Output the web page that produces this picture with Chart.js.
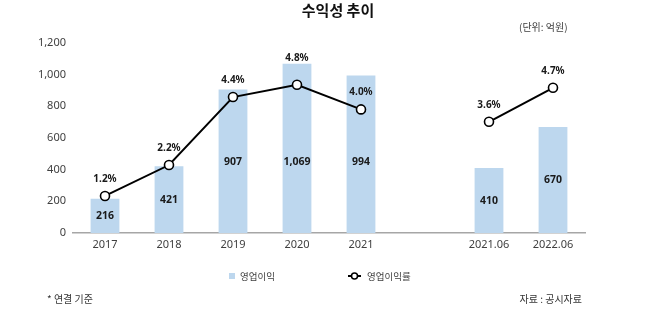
<!DOCTYPE html>
<html><head><meta charset="utf-8">
<script src="https://cdn.jsdelivr.net/npm/chart.js@4.4.1/dist/chart.umd.min.js"></script>
<style>html,body{margin:0;padding:0;background:#fff}#wrap{width:650px;height:336px;position:relative}</style>
</head><body><div id="wrap"><canvas id="c" width="650" height="336"></canvas></div>
<script>
// ---- data ----
const categories = ['2017','2018','2019','2020','2021','','2021.06','2022.06'];
const operatingProfit = [216, 421, 907, 1069, 994, null, 410, 670];
const operatingMargin = [1.2, 2.2, 4.4, 4.8, 4.0, null, 3.6, 4.7];
const profitLabels = ['216','421','907','1,069','994', null, '410','670'];
const marginLabels = ['1.2%','2.2%','4.4%','4.8%','4.0%', null, '3.6%','4.7%'];
const yTickLabels = ['0','200','400','600','800','1,000','1,200'];
const titleText = '수익성 추이';
const unitText = '(단위: 억원)';
const seriesNames = ['영업이익', '영업이익률'];
const noteText = '* 연결 기준';
const sourceText = '자료 : 공시자료';

// ---- style ----
const FONT = "'Noto Sans','Noto Sans CJK KR',sans-serif";
const KFONT = "'Noto Sans CJK KR','Noto Sans',sans-serif";
const BAR_COLOR = '#BDD7EE';
const LABEL_CAP = 450;

Chart.defaults.font.family = FONT;

const textPlugin = {
  id: 'texts',
  afterDatasetsDraw(chart) {
    const ctx = chart.ctx;
    const lineMeta = chart.getDatasetMeta(0);
    const barMeta = chart.getDatasetMeta(1);
    const y = chart.scales.y;
    ctx.save();
    ctx.textAlign = 'center';
    ctx.textBaseline = 'middle';
    // bar values
    ctx.font = "bold 10.5px " + FONT;
    ctx.fillStyle = '#1a1a1a';
    const capY = y.getPixelForValue(LABEL_CAP);
    barMeta.data.forEach((b, i) => {
      if (profitLabels[i] == null) return;
      const mid = (b.y + b.base) / 2;
      ctx.fillText(profitLabels[i], b.x, Math.max(mid, capY));
    });
    // margin labels
    ctx.font = "bold 10px " + FONT;
    lineMeta.data.forEach((p, i) => {
      if (marginLabels[i] == null) return;
      let ly = p.y - 17;
      const bar = barMeta.data[i];
      if (bar && ly + 6 > bar.y && ly - 6 < bar.y) ly = bar.y - 6;
      ctx.fillText(marginLabels[i], p.x, ly);
    });
    ctx.restore();
  },
  afterDraw(chart) {
    const ctx = chart.ctx;
    ctx.save();
    ctx.textBaseline = 'middle';
    // title
    ctx.textAlign = 'center';
    ctx.fillStyle = '#111';
    ctx.font = "bold 15px " + KFONT;
    ctx.fillText(titleText, 338, 10);
    // unit
    ctx.textAlign = 'left';
    ctx.fillStyle = '#404040';
    ctx.font = "10px " + KFONT;
    ctx.fillText(unitText, 519, 27);
    // legend
    const ly = 276;
    ctx.fillStyle = BAR_COLOR;
    ctx.fillRect(229, ly - 3, 6, 6);
    ctx.fillStyle = '#404040';
    ctx.font = "9.5px " + KFONT;
    ctx.fillText(seriesNames[0], 240, ly);
    ctx.strokeStyle = '#000';
    ctx.lineWidth = 2;
    ctx.beginPath(); ctx.moveTo(348, ly); ctx.lineTo(361, ly); ctx.stroke();
    ctx.beginPath(); ctx.arc(354.5, ly, 3, 0, Math.PI * 2);
    ctx.fillStyle = '#fff'; ctx.fill();
    ctx.lineWidth = 1.5; ctx.stroke();
    ctx.fillStyle = '#404040';
    ctx.fillText(seriesNames[1], 367, ly);
    // footnotes
    ctx.fillStyle = '#333';
    ctx.font = "10px " + KFONT;
    ctx.textAlign = 'left';
    ctx.fillText(noteText, 47, 299);
    ctx.textAlign = 'right';
    ctx.fillText(sourceText, 582, 299);
    ctx.restore();
  }
};

new Chart(document.getElementById('c'), {
  type: 'bar',
  data: {
    labels: categories,
    datasets: [
      {
        type: 'line', label: seriesNames[1], data: operatingMargin, yAxisID: 'y2',
        borderColor: '#000', borderWidth: 2, tension: 0, spanGaps: false,
        pointRadius: 4.5, pointHoverRadius: 4.5, pointBackgroundColor: '#fff',
        pointBorderColor: '#000', pointBorderWidth: 1.6, order: 0
      },
      {
        type: 'bar', label: seriesNames[0], data: operatingProfit, yAxisID: 'y',
        backgroundColor: BAR_COLOR, barPercentage: 0.9, categoryPercentage: 0.5, order: 1
      }
    ]
  },
  options: {
    responsive: false, animation: false, devicePixelRatio: 1,
    layout: { padding: { left: 0, right: 65, top: 43, bottom: 73 } },
    plugins: { legend: { display: false }, title: { display: false }, tooltip: { enabled: false } },
    scales: {
      x: {
        grid: { display: false, drawTicks: false },
        border: { display: true, color: '#a6a6a6', width: 1.5 },
        ticks: { padding: 5, color: '#404040', font: { size: 11 }, autoSkip: false, maxRotation: 0 },
        afterFit(s) { s.height = 30; }
      },
      y: {
        min: 0, max: 1200,
        ticks: { stepSize: 200, padding: 7, color: '#404040', font: { size: 11 },
          callback: (v, i) => yTickLabels[i] },
        grid: { display: false, drawTicks: false },
        border: { display: false },
        afterFit(s) { s.width = 73; }
      },
      y2: { display: false, min: 0, max: 6.15, position: 'right' }
    }
  },
  plugins: [textPlugin]
});
</script>
</body></html>
